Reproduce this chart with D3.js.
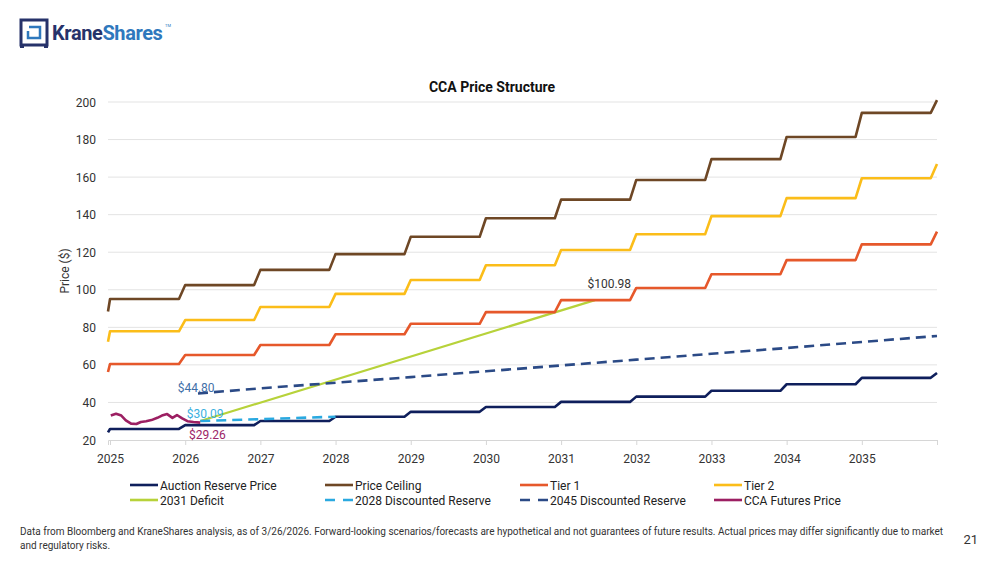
<!DOCTYPE html>
<html>
<head>
<meta charset="utf-8">
<script src="https://cdn.jsdelivr.net/npm/d3@7"></script>
<style>
    body { margin: 0; background: #fff; }
    svg { font-family: Roboto, "DejaVu Sans", sans-serif; }
</style>
</head>
<body>
<svg id="chart" width="1000" height="563"></svg>
<script>
// yearly program values (2024 .. 2036), step up each January
const years = [2024, 2025, 2026, 2027, 2028, 2029, 2030, 2031, 2032, 2033, 2034, 2035, 2036]
const auctionReserve = [24.04, 25.87, 27.9, 30.1, 32.4, 35.0, 37.6, 40.3, 43.1, 46.2, 49.7, 53.1, 55.7]
const priceCeiling = [88.4, 95.1, 102.5, 110.6, 119.0, 128.2, 138.1, 148.0, 158.5, 169.6, 181.4, 194.2, 201]
const tier1 = [56.2, 60.5, 65.3, 70.6, 76.3, 81.9, 88.1, 94.5, 100.98, 108.3, 115.8, 124.2, 131]
const tier2 = [72.3, 77.9, 83.9, 90.8, 97.8, 105.2, 113.1, 121.2, 129.6, 139.2, 148.8, 159.4, 167]

// projections [year, price]
const deficit2031 = [[2026.2, 30.09], [2031.45, 94.5]]
const discounted2028 = [[2026.2, 30.09], [2027, 31.1], [2028, 32.4]]
const discounted2045 = [[2026.17, 44.8], [2027, 47.5], [2028, 50.5], [2029, 53.5], [2030, 56.6],
    [2031, 59.7], [2032, 62.8], [2033, 65.9], [2034, 69.0], [2035, 72.2], [2036, 75.4]]

// CCA futures
const ccaFutures = [[2025.01, 33.0], [2025.08, 34.0], [2025.15, 33.0], [2025.21, 30.5], [2025.28, 28.7],
    [2025.35, 28.5], [2025.41, 29.6], [2025.48, 30.0], [2025.55, 30.6], [2025.63, 31.8], [2025.69, 33.0],
    [2025.76, 33.8], [2025.83, 31.8], [2025.89, 33.3], [2025.96, 31.5], [2026.03, 30.0], [2026.11, 29.6],
    [2026.2, 29.26]]

const yTicks = [20, 40, 60, 80, 100, 120, 140, 160, 180, 200]
const xTicks = [2025, 2026, 2027, 2028, 2029, 2030, 2031, 2032, 2033, 2034, 2035, 2036]

const labels = [
    { text: "$100.98", at: [2031.35, 100.98], color: "#333333" },
    { text: "$44.80", at: [2025.9, 45.5], color: "#3f6fa8" },
    { text: "$30.09", at: [2026.02, 31.7], color: "#3bb0e0" },
    { text: "$29.26", at: [2026.05, 20.6], color: "#9c2467" }
]

const series = [
    { name: "Auction Reserve Price", color: "#0f1f5c", dash: null },
    { name: "Price Ceiling", color: "#6e4725", dash: null },
    { name: "Tier 1", color: "#e6582b", dash: null },
    { name: "Tier 2", color: "#fbbd19", dash: null },
    { name: "2031 Deficit", color: "#b7d23a", dash: null },
    { name: "2028 Discounted Reserve", color: "#2aa9e0", dash: "10,6" },
    { name: "2045 Discounted Reserve", color: "#2b4a86", dash: "10,6" },
    { name: "CCA Futures Price", color: "#9c1f62", dash: null }
]

const svg = d3.select("#chart")
const plotLeft = 108, plotRight = 937, plotTop = 102, plotBottom = 440

const x = d3.scaleLinear().domain([2024.973, 2036]).range([plotLeft, plotRight])
const y = d3.scaleLinear().domain([20, 200]).range([plotBottom, plotTop])

// turn yearly values into a stepped line (one month ramp before each January)
function steps(values) {
    const pts = [[x.domain()[0], values[0]]]
    for (let i = 1; i < years.length; i++) {
        const start = Math.max(years[i] - 1 / 12, x.domain()[0])
        pts.push([start, values[i - 1]])
        pts.push([Math.min(years[i], x.domain()[1]), values[i]])
    }
    return pts
}

const line = d3.line().x(d => x(d[0])).y(d => y(d[1]))

// logo
const logo = svg.append("g")
logo.append("rect").attr("x", 21).attr("y", 20).attr("width", 26).attr("height", 25)
    .attr("fill", "none").attr("stroke", "#26326a").attr("stroke-width", 3)
logo.append("rect").attr("x", 20).attr("y", 44).attr("width", 4).attr("height", 4).attr("fill", "#26326a")
logo.append("rect").attr("x", 44).attr("y", 44).attr("width", 4).attr("height", 4).attr("fill", "#26326a")
logo.append("path").attr("d", "M29,27 H40 V38 H28 V31")
    .attr("fill", "none").attr("stroke", "#2e78bd").attr("stroke-width", 2.5)
const logoText = logo.append("text").attr("x", 52).attr("y", 40)
    .attr("font-size", 20).attr("font-weight", 700).attr("letter-spacing", -0.4)
logoText.append("tspan").attr("fill", "#26326a").text("Krane")
logoText.append("tspan").attr("fill", "#2e78bd").text("Shares")
logo.append("text").attr("x", 165).attr("y", 27).attr("font-size", 4).attr("fill", "#2e78bd").text("TM")

// title
svg.append("text").attr("x", 492).attr("y", 92).attr("text-anchor", "middle")
    .attr("font-size", 14).attr("font-weight", 700).attr("fill", "#111").text("CCA Price Structure")

// grid + y labels
svg.append("g").selectAll("line").data(yTicks.filter(d => d > 20)).join("line")
    .attr("x1", plotLeft).attr("x2", plotRight).attr("y1", d => y(d)).attr("y2", d => y(d))
    .attr("stroke", "#e3e3e3").attr("stroke-width", 1)
svg.append("g").selectAll("text").data(yTicks).join("text")
    .attr("x", 96).attr("y", d => y(d) + 4.5).attr("text-anchor", "end")
    .attr("font-size", 12).attr("fill", "#333").text(d => d)

svg.append("text").attr("transform", `translate(69,${(plotTop + plotBottom) / 2}) rotate(-90)`)
    .attr("text-anchor", "middle").attr("font-size", 12).attr("fill", "#333").text("Price ($)")

// x axis
const xAxis = svg.append("g").attr("transform", `translate(0,${plotBottom})`)
    .call(d3.axisBottom(x).tickValues(xTicks).tickSize(5).tickFormat(d => d === 2036 ? "" : d))
xAxis.select(".domain").attr("stroke", "#d6d6d6")
xAxis.selectAll(".tick line").attr("stroke", "#d6d6d6")
xAxis.selectAll(".tick text").attr("font-size", 12).attr("fill", "#333").attr("y", 10).attr("dy", "1.1em")
    .attr("font-family", "Roboto, sans-serif")

// series
const plot = svg.append("g").attr("fill", "none").attr("stroke-linejoin", "round")
const data = [
    steps(auctionReserve), steps(priceCeiling), steps(tier1), steps(tier2),
    deficit2031, discounted2028, discounted2045, ccaFutures
]
const drawOrder = [4, 1, 3, 2, 6, 0, 5, 7]
drawOrder.forEach(i => {
    plot.append("path").attr("d", line(data[i]))
        .attr("stroke", series[i].color)
        .attr("stroke-width", i === 4 ? 2.2 : 2.6)
        .attr("stroke-dasharray", series[i].dash)
})

// value labels
svg.append("g").selectAll("text").data(labels).join("text")
    .attr("x", d => x(d.at[0])).attr("y", d => y(d.at[1]))
    .attr("font-size", 12).attr("fill", d => d.color).text(d => d.text)

// legend
const legend = svg.append("g").selectAll("g").data(series).join("g")
    .attr("transform", (d, i) => `translate(${[130, 325, 520, 714][i % 4]},${485 + Math.floor(i / 4) * 15})`)
legend.append("line").attr("x1", 0).attr("x2", 28).attr("y1", 0).attr("y2", 0)
    .attr("stroke", d => d.color).attr("stroke-width", 2.6)
    .attr("stroke-dasharray", d => d.dash ? "10,8" : null)
legend.append("text").attr("x", 30).attr("y", 4.5).attr("font-size", 12).attr("fill", "#222").text(d => d.name)

// footer
const foot = svg.append("text").attr("x", 20).attr("font-size", 10).attr("fill", "#333")
foot.append("tspan").attr("x", 20).attr("y", 535)
    .text("Data from Bloomberg and KraneShares analysis, as of 3/26/2026. Forward-looking scenarios/forecasts are hypothetical and not guarantees of future results. Actual prices may differ significantly due to market")
foot.append("tspan").attr("x", 20).attr("y", 549).text("and regulatory risks.")
svg.append("text").attr("x", 978).attr("y", 544).attr("text-anchor", "end")
    .attr("font-size", 13).attr("fill", "#333").text("21")
</script>
</body>
</html>
